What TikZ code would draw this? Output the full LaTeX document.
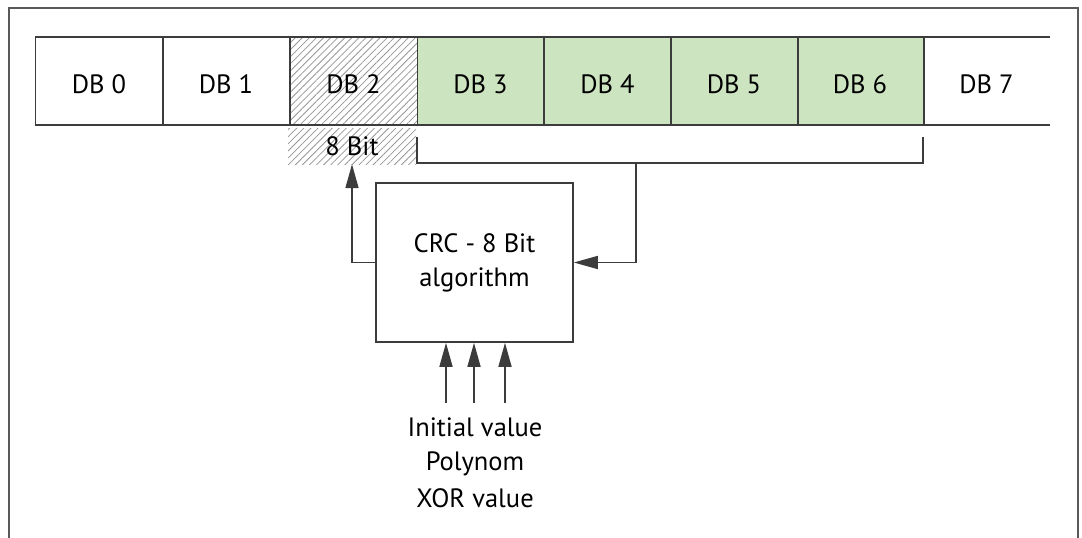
\documentclass[tikz,border=0pt]{standalone}
\usepackage{fontspec}
\setmainfont{PT Sans}
\usetikzlibrary{arrows.meta,patterns.meta}
\definecolor{lg}{RGB}{205,228,192}
\definecolor{ln}{RGB}{60,60,60}
\definecolor{hatchc}{RGB}{150,150,150}
\begin{document}
\begin{tikzpicture}[x=1pt,y=-1pt,
  every node/.style={font=\fontsize{26.5}{30}\selectfont, text=black},
  cell/.style={minimum width=127pt, minimum height=88pt, inner sep=0pt, text height=24pt, text depth=0pt},
  green/.style={fill=lg},
  hatch/.style={pattern={Lines[angle=45,distance=5pt,line width=0.8pt]}, pattern color=hatchc},
  ln/.style={draw=ln, line width=1.6pt},
  arr/.style={ln, -{Triangle[length=24pt,width=13pt]}},
  frame/.style={draw=black!65, line width=1.4pt}]
\useasboundingbox (0,0) rectangle (1082,538);
\draw[frame] (9,538) -- (9,8) -- (1078,8) -- (1078,538);
% cells
\node[cell] (db0) at (99,81) {DB 0};
\node[cell] (db1) at (226,81) {DB 1};
\node[cell,hatch] (db2) at (353.5,81) {DB 2};
\node[cell,green] (db3) at (480.5,81) {DB 3};
\node[cell,green] (db4) at (607.5,81) {DB 4};
\node[cell,green] (db5) at (734,81) {DB 5};
\node[cell,green] (db6) at (860,81) {DB 6};
\node[cell] (db7) at (986.5,81) {DB 7};
\draw[ln] (db0.north west) -- (db7.north east);
\draw[ln] (db0.south west) -- (db7.south east);
\foreach \c in {db0,db1,db2,db3,db4,db5,db6} \draw[ln] (\c.north east) -- (\c.south east);
\draw[ln] (db0.north west) -- (db0.south west);
% 8 bit
\node[hatch, minimum width=128pt, minimum height=36pt, inner sep=0pt, text height=18pt, text depth=0pt] (bit8) at (352,146) {8 Bit};
% bracket
\coordinate (b1) at (417,137);
\coordinate (bl) at (417,163);
\coordinate (br) at (923,163);
\coordinate (b2) at (923,137);
\coordinate (bm) at (636,163);
\draw[ln] (b1) -- (bl) -- (br) -- (b2);
% crc box
\node[ln, minimum width=197pt, minimum height=159pt, inner sep=0pt, align=center] (crc) at (474.5,262.5) {CRC - 8 Bit\\[4pt]algorithm};
\draw[arr] (bm) |- (crc.east);
\draw[arr] (crc.west) -| (bit8.south);
% inputs
\coordinate (i1) at (446,403);
\coordinate (i2) at (474,403);
\coordinate (i3) at (505,403);
\foreach \i in {i1,i2,i3} \draw[arr] (\i) -- (\i |- crc.south);
\node[anchor=base] (t1) at (475,436) {Initial value};
\node[anchor=base] (t2) at (475,470) {Polynom};
\node[anchor=base] (t3) at (475,507) {XOR value};
\end{tikzpicture}
\end{document}
